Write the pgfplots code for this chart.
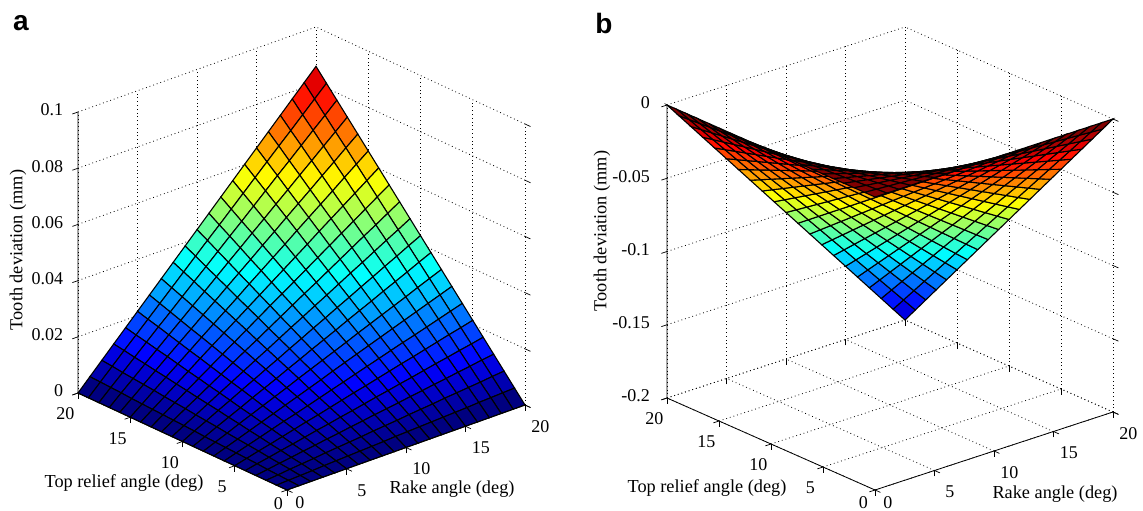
\documentclass[border=0pt]{standalone}
\usepackage{fontspec}
\setmainfont{Liberation Serif}
\newfontfamily\panelfont{Liberation Sans}
\usepackage{pgfplots}
\pgfplotsset{compat=1.18}
\newcommand{\shiftedzero}[2]{\makebox[0pt]{\hspace{#1}\raisebox{#2}[0pt][0pt]{0}}}
\tikzset{lab/.style={font=\fontsize{18.3}{20}\selectfont, anchor=center}}
\pgfplotsset{
  colormap={myjet}{rgb255=(0,0,128) rgb255=(0,0,255) rgb255=(0,128,255) rgb255=(0,255,255) rgb255=(128,255,128) rgb255=(255,255,0) rgb255=(255,128,0) rgb255=(255,0,0) rgb255=(128,0,0)},
  panel/.style={
    clip=false,
    anchor=origin,
    colormap name=myjet,
    axis line style={draw=none},
    grid=major,
    grid style={dash pattern=on 0.8pt off 3pt, black, line width=0.8pt},
    tick style={black, line width=0.7pt},
    tick align=outside,
    major tick length=6pt,
    tick pos=left,
    xmin=0,xmax=20,ymin=0,ymax=20,
    xtick={0,5,10,15,20}, ytick={0,5,10,15,20},
    xticklabels={\shiftedzero{-5pt}{3pt},5,10,15,20},
    tick label style={font=\fontsize{18}{20}\selectfont},
    xticklabel style={anchor=center,xshift=10pt,yshift=-19pt},
    yticklabel style={anchor=center,xshift=-7pt,yshift=-19pt},
  },
  surfstyle/.style={surf, shader=flat corner, draw=black, line width=1.1pt, z buffer=sort,
    mesh/rows=21, mesh/cols=21, mesh/ordering=x varies},
}
\begin{document}
\begin{tikzpicture}[x=1pt,y=1pt]
\path[use as bounding box] (0,0) rectangle (1143,511);
\node[font=\panelfont\bfseries\fontsize{28}{30}\selectfont] at (21,488) {a};
\node[font=\panelfont\bfseries\fontsize{28}{30}\selectfont] at (604,488) {b};
\begin{axis}[panel, at={(287pt,21pt)},
  x={(11.9pt,4.25pt)}, y={(-10.45pt,4.85pt)}, z={(0pt,2810pt)},
  zmin=0,zmax=0.1,
  ztick={0,0.02,0.04,0.06,0.08,0.1},
  zticklabels={0,0.02,0.04,0.06,0.08,0.1},
  yticklabels={\shiftedzero{8pt}{2pt},5,10,15,20},
  zticklabel style={anchor=east,xshift=-6pt,yshift=-0.5pt},
  xlabel={Rake angle (deg)}, ylabel={Top relief angle (deg)}, zlabel={Tooth deviation (mm)},
  every axis x label/.style={at={(axis cs:0,0,0)},lab,xshift=165pt,yshift=1pt},
  every axis y label/.style={at={(axis cs:0,0,0)},lab,xshift=-163pt,yshift=7pt},
  every axis z label/.style={at={(axis cs:0,0,0)},lab,xshift=-269pt,yshift=240pt,rotate=90},
]
\addplot3[surfstyle] coordinates {
(0,0,0)(1,0,0)(2,0,0)(3,0,0)(4,0,0)(5,0,0)(6,0,0)(7,0,0)(8,0,0)(9,0,0)(10,0,0)(11,0,0)(12,0,0)(13,0,0)(14,0,0)(15,0,0)(16,0,0)(17,0,0)(18,0,0)(19,0,0)(20,0,0)
(0,1,0)(1,1,0.0002)(2,1,0.0004)(3,1,0.0006)(4,1,0.0009)(5,1,0.0011)(6,1,0.0013)(7,1,0.0015)(8,1,0.0017)(9,1,0.0019)(10,1,0.0022)(11,1,0.0024)(12,1,0.0026)(13,1,0.0028)(14,1,0.0030)(15,1,0.0032)(16,1,0.0034)(17,1,0.0037)(18,1,0.0039)(19,1,0.0041)(20,1,0.0043)
(0,2,0)(1,2,0.0004)(2,2,0.0009)(3,2,0.0013)(4,2,0.0017)(5,2,0.0022)(6,2,0.0026)(7,2,0.0030)(8,2,0.0034)(9,2,0.0039)(10,2,0.0043)(11,2,0.0047)(12,2,0.0052)(13,2,0.0056)(14,2,0.0060)(15,2,0.0065)(16,2,0.0069)(17,2,0.0073)(18,2,0.0077)(19,2,0.0082)(20,2,0.0086)
(0,3,0)(1,3,0.0006)(2,3,0.0013)(3,3,0.0019)(4,3,0.0026)(5,3,0.0032)(6,3,0.0039)(7,3,0.0045)(8,3,0.0052)(9,3,0.0058)(10,3,0.0065)(11,3,0.0071)(12,3,0.0077)(13,3,0.0084)(14,3,0.0090)(15,3,0.0097)(16,3,0.0103)(17,3,0.0110)(18,3,0.0116)(19,3,0.0123)(20,3,0.0129)
(0,4,0)(1,4,0.0009)(2,4,0.0017)(3,4,0.0026)(4,4,0.0034)(5,4,0.0043)(6,4,0.0052)(7,4,0.0060)(8,4,0.0069)(9,4,0.0077)(10,4,0.0086)(11,4,0.0095)(12,4,0.0103)(13,4,0.0112)(14,4,0.0120)(15,4,0.0129)(16,4,0.0138)(17,4,0.0146)(18,4,0.0155)(19,4,0.0163)(20,4,0.0172)
(0,5,0)(1,5,0.0011)(2,5,0.0022)(3,5,0.0032)(4,5,0.0043)(5,5,0.0054)(6,5,0.0065)(7,5,0.0075)(8,5,0.0086)(9,5,0.0097)(10,5,0.0108)(11,5,0.0118)(12,5,0.0129)(13,5,0.0140)(14,5,0.0151)(15,5,0.0161)(16,5,0.0172)(17,5,0.0183)(18,5,0.0194)(19,5,0.0204)(20,5,0.0215)
(0,6,0)(1,6,0.0013)(2,6,0.0026)(3,6,0.0039)(4,6,0.0052)(5,6,0.0065)(6,6,0.0077)(7,6,0.0090)(8,6,0.0103)(9,6,0.0116)(10,6,0.0129)(11,6,0.0142)(12,6,0.0155)(13,6,0.0168)(14,6,0.0181)(15,6,0.0194)(16,6,0.0206)(17,6,0.0219)(18,6,0.0232)(19,6,0.0245)(20,6,0.0258)
(0,7,0)(1,7,0.0015)(2,7,0.0030)(3,7,0.0045)(4,7,0.0060)(5,7,0.0075)(6,7,0.0090)(7,7,0.0105)(8,7,0.0120)(9,7,0.0135)(10,7,0.0151)(11,7,0.0166)(12,7,0.0181)(13,7,0.0196)(14,7,0.0211)(15,7,0.0226)(16,7,0.0241)(17,7,0.0256)(18,7,0.0271)(19,7,0.0286)(20,7,0.0301)
(0,8,0)(1,8,0.0017)(2,8,0.0034)(3,8,0.0052)(4,8,0.0069)(5,8,0.0086)(6,8,0.0103)(7,8,0.0120)(8,8,0.0138)(9,8,0.0155)(10,8,0.0172)(11,8,0.0189)(12,8,0.0206)(13,8,0.0224)(14,8,0.0241)(15,8,0.0258)(16,8,0.0275)(17,8,0.0292)(18,8,0.0310)(19,8,0.0327)(20,8,0.0344)
(0,9,0)(1,9,0.0019)(2,9,0.0039)(3,9,0.0058)(4,9,0.0077)(5,9,0.0097)(6,9,0.0116)(7,9,0.0135)(8,9,0.0155)(9,9,0.0174)(10,9,0.0194)(11,9,0.0213)(12,9,0.0232)(13,9,0.0252)(14,9,0.0271)(15,9,0.0290)(16,9,0.0310)(17,9,0.0329)(18,9,0.0348)(19,9,0.0368)(20,9,0.0387)
(0,10,0)(1,10,0.0022)(2,10,0.0043)(3,10,0.0065)(4,10,0.0086)(5,10,0.0108)(6,10,0.0129)(7,10,0.0151)(8,10,0.0172)(9,10,0.0194)(10,10,0.0215)(11,10,0.0237)(12,10,0.0258)(13,10,0.0280)(14,10,0.0301)(15,10,0.0323)(16,10,0.0344)(17,10,0.0366)(18,10,0.0387)(19,10,0.0409)(20,10,0.0430)
(0,11,0)(1,11,0.0024)(2,11,0.0047)(3,11,0.0071)(4,11,0.0095)(5,11,0.0118)(6,11,0.0142)(7,11,0.0166)(8,11,0.0189)(9,11,0.0213)(10,11,0.0237)(11,11,0.0260)(12,11,0.0284)(13,11,0.0307)(14,11,0.0331)(15,11,0.0355)(16,11,0.0378)(17,11,0.0402)(18,11,0.0426)(19,11,0.0449)(20,11,0.0473)
(0,12,0)(1,12,0.0026)(2,12,0.0052)(3,12,0.0077)(4,12,0.0103)(5,12,0.0129)(6,12,0.0155)(7,12,0.0181)(8,12,0.0206)(9,12,0.0232)(10,12,0.0258)(11,12,0.0284)(12,12,0.0310)(13,12,0.0335)(14,12,0.0361)(15,12,0.0387)(16,12,0.0413)(17,12,0.0439)(18,12,0.0464)(19,12,0.0490)(20,12,0.0516)
(0,13,0)(1,13,0.0028)(2,13,0.0056)(3,13,0.0084)(4,13,0.0112)(5,13,0.0140)(6,13,0.0168)(7,13,0.0196)(8,13,0.0224)(9,13,0.0252)(10,13,0.0280)(11,13,0.0307)(12,13,0.0335)(13,13,0.0363)(14,13,0.0391)(15,13,0.0419)(16,13,0.0447)(17,13,0.0475)(18,13,0.0503)(19,13,0.0531)(20,13,0.0559)
(0,14,0)(1,14,0.0030)(2,14,0.0060)(3,14,0.0090)(4,14,0.0120)(5,14,0.0151)(6,14,0.0181)(7,14,0.0211)(8,14,0.0241)(9,14,0.0271)(10,14,0.0301)(11,14,0.0331)(12,14,0.0361)(13,14,0.0391)(14,14,0.0421)(15,14,0.0452)(16,14,0.0482)(17,14,0.0512)(18,14,0.0542)(19,14,0.0572)(20,14,0.0602)
(0,15,0)(1,15,0.0032)(2,15,0.0065)(3,15,0.0097)(4,15,0.0129)(5,15,0.0161)(6,15,0.0194)(7,15,0.0226)(8,15,0.0258)(9,15,0.0290)(10,15,0.0323)(11,15,0.0355)(12,15,0.0387)(13,15,0.0419)(14,15,0.0452)(15,15,0.0484)(16,15,0.0516)(17,15,0.0548)(18,15,0.0581)(19,15,0.0613)(20,15,0.0645)
(0,16,0)(1,16,0.0034)(2,16,0.0069)(3,16,0.0103)(4,16,0.0138)(5,16,0.0172)(6,16,0.0206)(7,16,0.0241)(8,16,0.0275)(9,16,0.0310)(10,16,0.0344)(11,16,0.0378)(12,16,0.0413)(13,16,0.0447)(14,16,0.0482)(15,16,0.0516)(16,16,0.0550)(17,16,0.0585)(18,16,0.0619)(19,16,0.0654)(20,16,0.0688)
(0,17,0)(1,17,0.0037)(2,17,0.0073)(3,17,0.0110)(4,17,0.0146)(5,17,0.0183)(6,17,0.0219)(7,17,0.0256)(8,17,0.0292)(9,17,0.0329)(10,17,0.0366)(11,17,0.0402)(12,17,0.0439)(13,17,0.0475)(14,17,0.0512)(15,17,0.0548)(16,17,0.0585)(17,17,0.0621)(18,17,0.0658)(19,17,0.0694)(20,17,0.0731)
(0,18,0)(1,18,0.0039)(2,18,0.0077)(3,18,0.0116)(4,18,0.0155)(5,18,0.0194)(6,18,0.0232)(7,18,0.0271)(8,18,0.0310)(9,18,0.0348)(10,18,0.0387)(11,18,0.0426)(12,18,0.0464)(13,18,0.0503)(14,18,0.0542)(15,18,0.0581)(16,18,0.0619)(17,18,0.0658)(18,18,0.0697)(19,18,0.0735)(20,18,0.0774)
(0,19,0)(1,19,0.0041)(2,19,0.0082)(3,19,0.0123)(4,19,0.0163)(5,19,0.0204)(6,19,0.0245)(7,19,0.0286)(8,19,0.0327)(9,19,0.0368)(10,19,0.0409)(11,19,0.0449)(12,19,0.0490)(13,19,0.0531)(14,19,0.0572)(15,19,0.0613)(16,19,0.0654)(17,19,0.0694)(18,19,0.0735)(19,19,0.0776)(20,19,0.0817)
(0,20,0)(1,20,0.0043)(2,20,0.0086)(3,20,0.0129)(4,20,0.0172)(5,20,0.0215)(6,20,0.0258)(7,20,0.0301)(8,20,0.0344)(9,20,0.0387)(10,20,0.0430)(11,20,0.0473)(12,20,0.0516)(13,20,0.0559)(14,20,0.0602)(15,20,0.0645)(16,20,0.0688)(17,20,0.0731)(18,20,0.0774)(19,20,0.0817)(20,20,0.0860)
};
\draw[black,line width=0.8pt] (axis cs:0,20,0.1)--(axis cs:0,20,0)--(axis cs:0,0,0)--(axis cs:20,0,0);
\end{axis}
\begin{axis}[panel, at={(875pt,314pt)},
  x={(11.9pt,3.9pt)}, y={(-10.4pt,4.6pt)}, z={(0pt,1465pt)},
  zmin=-0.2,zmax=0,
  ztick={-0.2,-0.15,-0.1,-0.05,0},
  zticklabels={-0.2,-0.15,-0.1,-0.05,0},
  yticklabels={\shiftedzero{2pt}{2pt},5,10,15,20},
  zticklabel style={anchor=east,xshift=-8pt,yshift=-0.5pt},
  xlabel={Rake angle (deg)}, ylabel={Top relief angle (deg)}, zlabel={Tooth deviation (mm)},
  every axis x label/.style={at={(axis cs:0,0,0)},lab,xshift=180pt,yshift=-297pt},
  every axis y label/.style={at={(axis cs:0,0,0)},lab,xshift=-168pt,yshift=-291pt},
  every axis z label/.style={at={(axis cs:0,0,0)},lab,xshift=-273pt,yshift=-34pt,rotate=90},
]
\addplot3[surfstyle] coordinates {
(0,0,0)(1,0,0)(2,0,0)(3,0,0)(4,0,0)(5,0,0)(6,0,0)(7,0,0)(8,0,0)(9,0,0)(10,0,0)(11,0,0)(12,0,0)(13,0,0)(14,0,0)(15,0,0)(16,0,0)(17,0,0)(18,0,0)(19,0,0)(20,0,0)
(0,1,0)(1,1,-0.0005)(2,1,-0.001)(3,1,-0.0015)(4,1,-0.002)(5,1,-0.0025)(6,1,-0.003)(7,1,-0.0035)(8,1,-0.004)(9,1,-0.0045)(10,1,-0.005)(11,1,-0.0055)(12,1,-0.006)(13,1,-0.0065)(14,1,-0.007)(15,1,-0.0075)(16,1,-0.008)(17,1,-0.0085)(18,1,-0.009)(19,1,-0.0095)(20,1,-0.01)
(0,2,0)(1,2,-0.001)(2,2,-0.002)(3,2,-0.003)(4,2,-0.004)(5,2,-0.005)(6,2,-0.006)(7,2,-0.007)(8,2,-0.008)(9,2,-0.009)(10,2,-0.01)(11,2,-0.011)(12,2,-0.012)(13,2,-0.013)(14,2,-0.014)(15,2,-0.015)(16,2,-0.016)(17,2,-0.017)(18,2,-0.018)(19,2,-0.019)(20,2,-0.02)
(0,3,0)(1,3,-0.0015)(2,3,-0.003)(3,3,-0.0045)(4,3,-0.006)(5,3,-0.0075)(6,3,-0.009)(7,3,-0.0105)(8,3,-0.012)(9,3,-0.0135)(10,3,-0.015)(11,3,-0.0165)(12,3,-0.018)(13,3,-0.0195)(14,3,-0.021)(15,3,-0.0225)(16,3,-0.024)(17,3,-0.0255)(18,3,-0.027)(19,3,-0.0285)(20,3,-0.03)
(0,4,0)(1,4,-0.002)(2,4,-0.004)(3,4,-0.006)(4,4,-0.008)(5,4,-0.01)(6,4,-0.012)(7,4,-0.014)(8,4,-0.016)(9,4,-0.018)(10,4,-0.02)(11,4,-0.022)(12,4,-0.024)(13,4,-0.026)(14,4,-0.028)(15,4,-0.03)(16,4,-0.032)(17,4,-0.034)(18,4,-0.036)(19,4,-0.038)(20,4,-0.04)
(0,5,0)(1,5,-0.0025)(2,5,-0.005)(3,5,-0.0075)(4,5,-0.01)(5,5,-0.0125)(6,5,-0.015)(7,5,-0.0175)(8,5,-0.02)(9,5,-0.0225)(10,5,-0.025)(11,5,-0.0275)(12,5,-0.03)(13,5,-0.0325)(14,5,-0.035)(15,5,-0.0375)(16,5,-0.04)(17,5,-0.0425)(18,5,-0.045)(19,5,-0.0475)(20,5,-0.05)
(0,6,0)(1,6,-0.003)(2,6,-0.006)(3,6,-0.009)(4,6,-0.012)(5,6,-0.015)(6,6,-0.018)(7,6,-0.021)(8,6,-0.024)(9,6,-0.027)(10,6,-0.03)(11,6,-0.033)(12,6,-0.036)(13,6,-0.039)(14,6,-0.042)(15,6,-0.045)(16,6,-0.048)(17,6,-0.051)(18,6,-0.054)(19,6,-0.057)(20,6,-0.06)
(0,7,0)(1,7,-0.0035)(2,7,-0.007)(3,7,-0.0105)(4,7,-0.014)(5,7,-0.0175)(6,7,-0.021)(7,7,-0.0245)(8,7,-0.028)(9,7,-0.0315)(10,7,-0.035)(11,7,-0.0385)(12,7,-0.042)(13,7,-0.0455)(14,7,-0.049)(15,7,-0.0525)(16,7,-0.056)(17,7,-0.0595)(18,7,-0.063)(19,7,-0.0665)(20,7,-0.07)
(0,8,0)(1,8,-0.004)(2,8,-0.008)(3,8,-0.012)(4,8,-0.016)(5,8,-0.02)(6,8,-0.024)(7,8,-0.028)(8,8,-0.032)(9,8,-0.036)(10,8,-0.04)(11,8,-0.044)(12,8,-0.048)(13,8,-0.052)(14,8,-0.056)(15,8,-0.06)(16,8,-0.064)(17,8,-0.068)(18,8,-0.072)(19,8,-0.076)(20,8,-0.08)
(0,9,0)(1,9,-0.0045)(2,9,-0.009)(3,9,-0.0135)(4,9,-0.018)(5,9,-0.0225)(6,9,-0.027)(7,9,-0.0315)(8,9,-0.036)(9,9,-0.0405)(10,9,-0.045)(11,9,-0.0495)(12,9,-0.054)(13,9,-0.0585)(14,9,-0.063)(15,9,-0.0675)(16,9,-0.072)(17,9,-0.0765)(18,9,-0.081)(19,9,-0.0855)(20,9,-0.09)
(0,10,0)(1,10,-0.005)(2,10,-0.01)(3,10,-0.015)(4,10,-0.02)(5,10,-0.025)(6,10,-0.03)(7,10,-0.035)(8,10,-0.04)(9,10,-0.045)(10,10,-0.05)(11,10,-0.055)(12,10,-0.06)(13,10,-0.065)(14,10,-0.07)(15,10,-0.075)(16,10,-0.08)(17,10,-0.085)(18,10,-0.09)(19,10,-0.095)(20,10,-0.1)
(0,11,0)(1,11,-0.0055)(2,11,-0.011)(3,11,-0.0165)(4,11,-0.022)(5,11,-0.0275)(6,11,-0.033)(7,11,-0.0385)(8,11,-0.044)(9,11,-0.0495)(10,11,-0.055)(11,11,-0.0605)(12,11,-0.066)(13,11,-0.0715)(14,11,-0.077)(15,11,-0.0825)(16,11,-0.088)(17,11,-0.0935)(18,11,-0.099)(19,11,-0.1045)(20,11,-0.11)
(0,12,0)(1,12,-0.006)(2,12,-0.012)(3,12,-0.018)(4,12,-0.024)(5,12,-0.03)(6,12,-0.036)(7,12,-0.042)(8,12,-0.048)(9,12,-0.054)(10,12,-0.06)(11,12,-0.066)(12,12,-0.072)(13,12,-0.078)(14,12,-0.084)(15,12,-0.09)(16,12,-0.096)(17,12,-0.102)(18,12,-0.108)(19,12,-0.114)(20,12,-0.12)
(0,13,0)(1,13,-0.0065)(2,13,-0.013)(3,13,-0.0195)(4,13,-0.026)(5,13,-0.0325)(6,13,-0.039)(7,13,-0.0455)(8,13,-0.052)(9,13,-0.0585)(10,13,-0.065)(11,13,-0.0715)(12,13,-0.078)(13,13,-0.0845)(14,13,-0.091)(15,13,-0.0975)(16,13,-0.104)(17,13,-0.1105)(18,13,-0.117)(19,13,-0.1235)(20,13,-0.13)
(0,14,0)(1,14,-0.007)(2,14,-0.014)(3,14,-0.021)(4,14,-0.028)(5,14,-0.035)(6,14,-0.042)(7,14,-0.049)(8,14,-0.056)(9,14,-0.063)(10,14,-0.07)(11,14,-0.077)(12,14,-0.084)(13,14,-0.091)(14,14,-0.098)(15,14,-0.105)(16,14,-0.112)(17,14,-0.119)(18,14,-0.126)(19,14,-0.133)(20,14,-0.14)
(0,15,0)(1,15,-0.0075)(2,15,-0.015)(3,15,-0.0225)(4,15,-0.03)(5,15,-0.0375)(6,15,-0.045)(7,15,-0.0525)(8,15,-0.06)(9,15,-0.0675)(10,15,-0.075)(11,15,-0.0825)(12,15,-0.09)(13,15,-0.0975)(14,15,-0.105)(15,15,-0.1125)(16,15,-0.12)(17,15,-0.1275)(18,15,-0.135)(19,15,-0.1425)(20,15,-0.15)
(0,16,0)(1,16,-0.008)(2,16,-0.016)(3,16,-0.024)(4,16,-0.032)(5,16,-0.04)(6,16,-0.048)(7,16,-0.056)(8,16,-0.064)(9,16,-0.072)(10,16,-0.08)(11,16,-0.088)(12,16,-0.096)(13,16,-0.104)(14,16,-0.112)(15,16,-0.12)(16,16,-0.128)(17,16,-0.136)(18,16,-0.144)(19,16,-0.152)(20,16,-0.16)
(0,17,0)(1,17,-0.0085)(2,17,-0.017)(3,17,-0.0255)(4,17,-0.034)(5,17,-0.0425)(6,17,-0.051)(7,17,-0.0595)(8,17,-0.068)(9,17,-0.0765)(10,17,-0.085)(11,17,-0.0935)(12,17,-0.102)(13,17,-0.1105)(14,17,-0.119)(15,17,-0.1275)(16,17,-0.136)(17,17,-0.1445)(18,17,-0.153)(19,17,-0.1615)(20,17,-0.17)
(0,18,0)(1,18,-0.009)(2,18,-0.018)(3,18,-0.027)(4,18,-0.036)(5,18,-0.045)(6,18,-0.054)(7,18,-0.063)(8,18,-0.072)(9,18,-0.081)(10,18,-0.09)(11,18,-0.099)(12,18,-0.108)(13,18,-0.117)(14,18,-0.126)(15,18,-0.135)(16,18,-0.144)(17,18,-0.153)(18,18,-0.162)(19,18,-0.171)(20,18,-0.18)
(0,19,0)(1,19,-0.0095)(2,19,-0.019)(3,19,-0.0285)(4,19,-0.038)(5,19,-0.0475)(6,19,-0.057)(7,19,-0.0665)(8,19,-0.076)(9,19,-0.0855)(10,19,-0.095)(11,19,-0.1045)(12,19,-0.114)(13,19,-0.1235)(14,19,-0.133)(15,19,-0.1425)(16,19,-0.152)(17,19,-0.1615)(18,19,-0.171)(19,19,-0.1805)(20,19,-0.19)
(0,20,0)(1,20,-0.01)(2,20,-0.02)(3,20,-0.03)(4,20,-0.04)(5,20,-0.05)(6,20,-0.06)(7,20,-0.07)(8,20,-0.08)(9,20,-0.09)(10,20,-0.1)(11,20,-0.11)(12,20,-0.12)(13,20,-0.13)(14,20,-0.14)(15,20,-0.15)(16,20,-0.16)(17,20,-0.17)(18,20,-0.18)(19,20,-0.19)(20,20,-0.2)
};
\draw[black,line width=0.8pt] (axis cs:0,20,0)--(axis cs:0,20,-0.2)--(axis cs:0,0,-0.2)--(axis cs:20,0,-0.2);
\end{axis}
\end{tikzpicture}
\end{document}
